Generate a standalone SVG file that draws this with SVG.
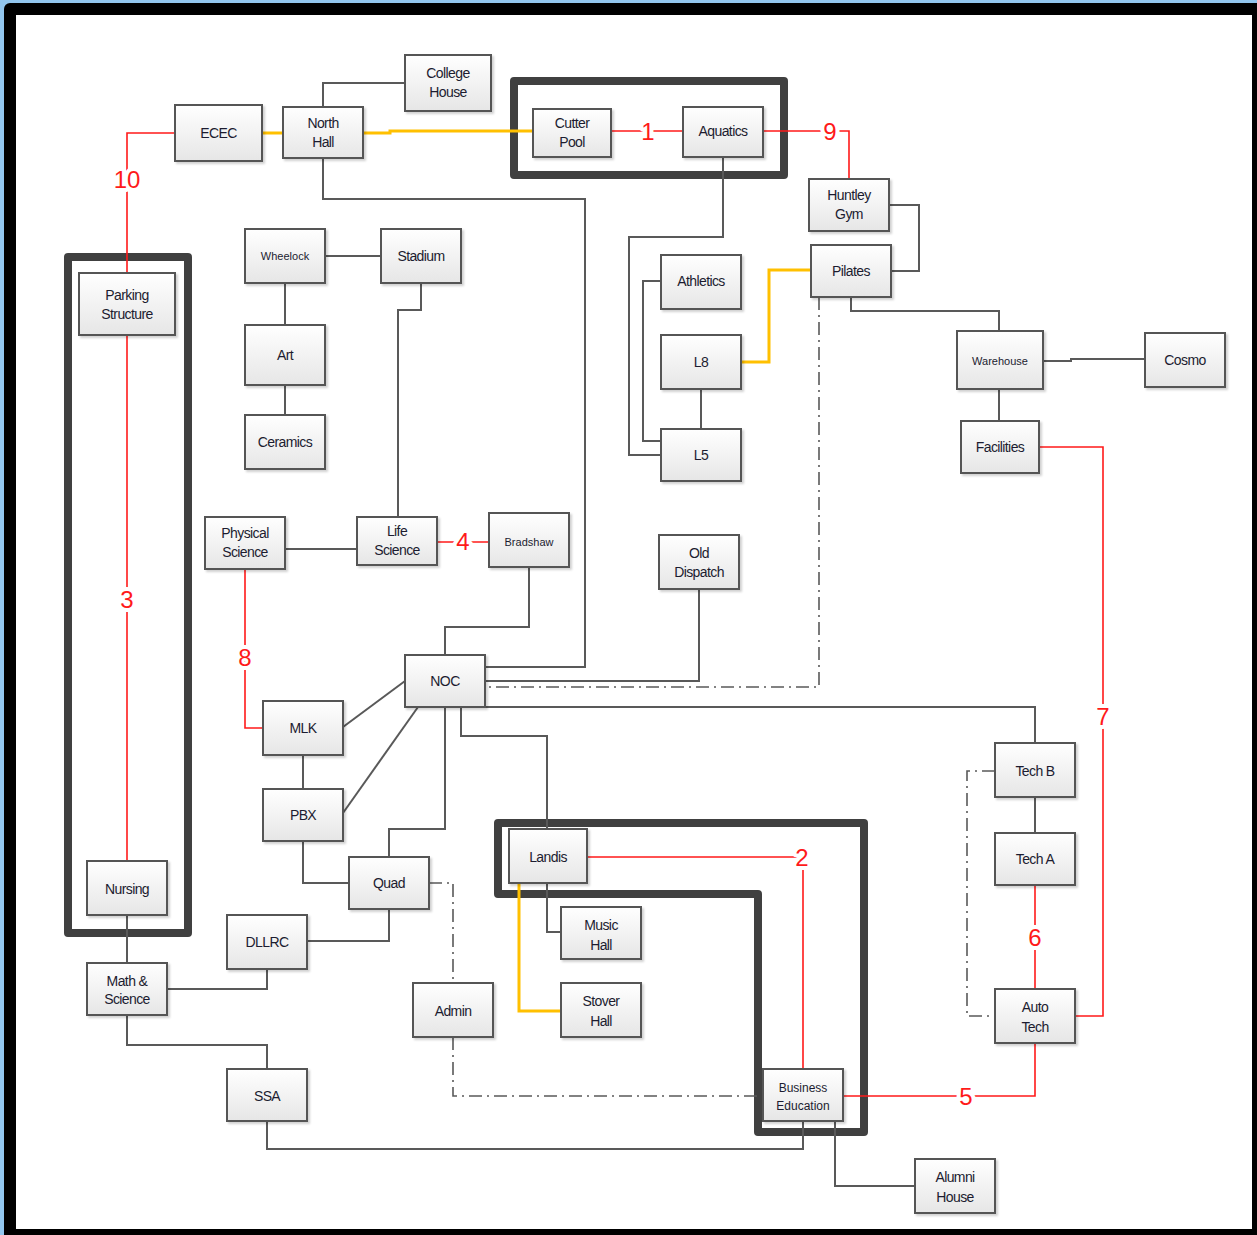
<svg xmlns="http://www.w3.org/2000/svg" width="1257" height="1235" viewBox="0 0 1257 1235">
<style>
.n rect{fill:url(#g);stroke:#555;stroke-width:2;filter:url(#sh)}
.n text{font-family:"Liberation Sans",Arial,sans-serif;font-size:14px;fill:#1c1c30;text-anchor:middle;letter-spacing:-0.6px}
.n text.s{font-size:11px;letter-spacing:0}
.n text.m{font-size:12px;letter-spacing:0}
.c path{fill:none}
.gy{stroke:#595959;stroke-width:2}
.dd{stroke:#595959;stroke-width:1.6;stroke-dasharray:13 5 2 5}
.yl{stroke:#FFC000;stroke-width:3}
.rd{stroke:#FF1A1A;stroke-width:1.6}
.lb{font-family:"Liberation Sans",Arial,sans-serif;font-size:24px;fill:#FF1A1A;text-anchor:middle;stroke:#fff;stroke-width:8;paint-order:stroke;stroke-linejoin:round}
.tb{fill:none;stroke:#404040;stroke-width:8;stroke-linejoin:round}
</style>
<defs>
<linearGradient id="g" x1="0" y1="0" x2="0" y2="1">
<stop offset="0" stop-color="#ffffff"/>
<stop offset="1" stop-color="#e6e6e6"/>
</linearGradient>
<filter id="sh" x="-10%" y="-10%" width="130%" height="130%">
<feDropShadow dx="2" dy="2" stdDeviation="1.2" flood-color="#000" flood-opacity="0.18"/>
</filter>
</defs>
<rect x="0" y="0" width="1257" height="1235" fill="#92c6ee"/>
<rect x="4" y="3" width="1263" height="1242" rx="6" fill="#000"/>
<rect x="16" y="15" width="1236" height="1214" fill="#fff"/>

<g id="groups">
<rect class="tb" x="68" y="257" width="120" height="676"/>
<rect class="tb" x="514" y="81" width="270" height="94"/>
<path class="tb" d="M498 823 H864 V1132 H758 V894 H498 Z"/>
</g>

<g id="connectors" class="c">
<path class="gy" d="M323 107 V83 H405"/>
<path class="gy" d="M323 158 V199 H585 V667 H485"/>
<path class="gy" d="M723 157 V237 H629 V455 H661"/>
<path class="gy" d="M661 281 H643 V441 H661"/>
<path class="gy" d="M701 389 V429"/>
<path class="gy" d="M889 205 H919 V271 H891"/>
<path class="gy" d="M851 297 V311 H999 V331"/>
<path class="gy" d="M1043 361 H1071 V359 H1145"/>
<path class="gy" d="M999 389 V421"/>
<path class="gy" d="M325 256 H381"/>
<path class="gy" d="M285 283 V325"/>
<path class="gy" d="M285 385 V415"/>
<path class="gy" d="M421 283 V310 H398 V517"/>
<path class="gy" d="M285 549 H357"/>
<path class="gy" d="M529 567 V627 H445 V655"/>
<path class="gy" d="M699 589 V681 H485"/>
<path class="gy" d="M485 707 H1035 V743"/>
<path class="gy" d="M405 681 L343 727"/>
<path class="gy" d="M418 707 L343 813"/>
<path class="gy" d="M445 707 V829 H389 V857"/>
<path class="gy" d="M461 707 V736 H547 V829"/>
<path class="gy" d="M303 755 V789"/>
<path class="gy" d="M303 841 V883 H349"/>
<path class="gy" d="M389 909 V941 H307"/>
<path class="gy" d="M267 969 V989 H167"/>
<path class="gy" d="M127 915 V963"/>
<path class="gy" d="M127 1015 V1045 H267 V1069"/>
<path class="gy" d="M267 1121 V1149 H803 V1121"/>
<path class="gy" d="M547 883 V932 H561"/>
<path class="gy" d="M835 1121 V1186 H915"/>
<path class="gy" d="M1035 797 V833"/>
<path class="dd" d="M819 297 V687 H485"/>
<path class="dd" d="M429 883 H453 V983"/>
<path class="dd" d="M453 1037 V1096 H763"/>
<path class="dd" d="M995 771 H967 V1016 H995"/>
<path class="yl" d="M261 133 H283"/>
<path class="yl" d="M363 133 H390 V131 H533"/>
<path class="yl" d="M741 362 H769 V270 H811"/>
<path class="yl" d="M519 883 V1011 H561"/>
<path class="rd" d="M127 273 V133 H175"/>
<path class="rd" d="M611 131 H683"/>
<path class="rd" d="M763 131 H849 V179"/>
<path class="rd" d="M127 335 V861"/>
<path class="rd" d="M437 542 H489"/>
<path class="rd" d="M245 569 V728 H263"/>
<path class="rd" d="M587 857 H803 V1069"/>
<path class="rd" d="M843 1096 H1035 V1043"/>
<path class="rd" d="M1035 885 V989"/>
<path class="rd" d="M1039 447 H1103 V1016 H1075"/>
<text class="lb" x="127" y="188">10</text>
<text class="lb" x="648" y="140">1</text>
<text class="lb" x="830" y="140">9</text>
<text class="lb" x="127" y="608">3</text>
<text class="lb" x="463" y="550">4</text>
<text class="lb" x="245" y="666">8</text>
<text class="lb" x="802" y="866">2</text>
<text class="lb" x="966" y="1105">5</text>
<text class="lb" x="1035" y="946">6</text>
<text class="lb" x="1103" y="725">7</text>
</g>

<g id="ecec" class="n"><rect x="175" y="105" width="87" height="56"/><text x="218.5" y="138">ECEC</text></g>
<g id="north-hall" class="n"><rect x="283" y="107" width="80" height="51"/><text x="323" y="128">North</text><text x="323" y="147">Hall</text></g>
<g id="college-house" class="n"><rect x="405" y="55" width="86" height="56"/><text x="448" y="78">College</text><text x="448" y="97">House</text></g>
<g id="cutter-pool" class="n"><rect x="533" y="109" width="78" height="48"/><text x="572" y="128">Cutter</text><text x="572" y="147">Pool</text></g>
<g id="aquatics" class="n"><rect x="683" y="107" width="80" height="50"/><text x="723" y="136">Aquatics</text></g>
<g id="huntley-gym" class="n"><rect x="809" y="179" width="80" height="52"/><text x="849" y="200">Huntley</text><text x="849" y="219">Gym</text></g>
<g id="pilates" class="n"><rect x="811" y="245" width="80" height="52"/><text x="851" y="276">Pilates</text></g>
<g id="athletics" class="n"><rect x="661" y="255" width="80" height="54"/><text x="701" y="286">Athletics</text></g>
<g id="l8" class="n"><rect x="661" y="335" width="80" height="54"/><text x="701" y="367">L8</text></g>
<g id="l5" class="n"><rect x="661" y="429" width="80" height="52"/><text x="701" y="460">L5</text></g>
<g id="warehouse" class="n"><rect x="957" y="331" width="86" height="58"/><text class="s" x="1000" y="365">Warehouse</text></g>
<g id="cosmo" class="n"><rect x="1145" y="333" width="80" height="54"/><text x="1185" y="365">Cosmo</text></g>
<g id="facilities" class="n"><rect x="961" y="421" width="78" height="52"/><text x="1000" y="452">Facilities</text></g>
<g id="wheelock" class="n"><rect x="245" y="229" width="80" height="54"/><text class="s" x="285" y="260">Wheelock</text></g>
<g id="stadium" class="n"><rect x="381" y="229" width="80" height="54"/><text x="421" y="261">Stadium</text></g>
<g id="art" class="n"><rect x="245" y="325" width="80" height="60"/><text x="285" y="360">Art</text></g>
<g id="ceramics" class="n"><rect x="245" y="415" width="80" height="54"/><text x="285" y="447">Ceramics</text></g>
<g id="physical-science" class="n"><rect x="205" y="517" width="80" height="52"/><text x="245" y="538">Physical</text><text x="245" y="557">Science</text></g>
<g id="life-science" class="n"><rect x="357" y="517" width="80" height="48"/><text x="397" y="536">Life</text><text x="397" y="555">Science</text></g>
<g id="bradshaw" class="n"><rect x="489" y="513" width="80" height="54"/><text class="s" x="529" y="546">Bradshaw</text></g>
<g id="old-dispatch" class="n"><rect x="659" y="535" width="80" height="54"/><text x="699" y="558">Old</text><text x="699" y="577">Dispatch</text></g>
<g id="noc" class="n"><rect x="405" y="655" width="80" height="52"/><text x="445" y="686">NOC</text></g>
<g id="mlk" class="n"><rect x="263" y="701" width="80" height="54"/><text x="303" y="733">MLK</text></g>
<g id="pbx" class="n"><rect x="263" y="789" width="80" height="52"/><text x="303" y="820">PBX</text></g>
<g id="quad" class="n"><rect x="349" y="857" width="80" height="52"/><text x="389" y="888">Quad</text></g>
<g id="dllrc" class="n"><rect x="227" y="915" width="80" height="54"/><text x="267" y="947">DLLRC</text></g>
<g id="math-science" class="n"><rect x="87" y="963" width="80" height="52"/><text x="127" y="986">Math &amp;</text><text x="127" y="1004">Science</text></g>
<g id="ssa" class="n"><rect x="227" y="1069" width="80" height="52"/><text x="267" y="1101">SSA</text></g>
<g id="admin" class="n"><rect x="413" y="983" width="80" height="54"/><text x="453" y="1016">Admin</text></g>
<g id="landis" class="n"><rect x="509" y="829" width="78" height="54"/><text x="548" y="862">Landis</text></g>
<g id="music-hall" class="n"><rect x="561" y="907" width="80" height="52"/><text x="601" y="930">Music</text><text x="601" y="950">Hall</text></g>
<g id="stover-hall" class="n"><rect x="561" y="983" width="80" height="54"/><text x="601" y="1006">Stover</text><text x="601" y="1026">Hall</text></g>
<g id="business-education" class="n"><rect x="763" y="1069" width="80" height="52"/><text class="m" x="803" y="1092">Business</text><text class="m" x="803" y="1110">Education</text></g>
<g id="alumni-house" class="n"><rect x="915" y="1159" width="80" height="54"/><text x="955" y="1182">Alumni</text><text x="955" y="1202">House</text></g>
<g id="tech-b" class="n"><rect x="995" y="743" width="80" height="54"/><text x="1035" y="776">Tech B</text></g>
<g id="tech-a" class="n"><rect x="995" y="833" width="80" height="52"/><text x="1035" y="864">Tech A</text></g>
<g id="auto-tech" class="n"><rect x="995" y="989" width="80" height="54"/><text x="1035" y="1012">Auto</text><text x="1035" y="1032">Tech</text></g>
<g id="parking-structure" class="n"><rect x="79" y="273" width="96" height="62"/><text x="127" y="300">Parking</text><text x="127" y="319">Structure</text></g>
<g id="nursing" class="n"><rect x="87" y="861" width="80" height="54"/><text x="127" y="894">Nursing</text></g>
</svg>
